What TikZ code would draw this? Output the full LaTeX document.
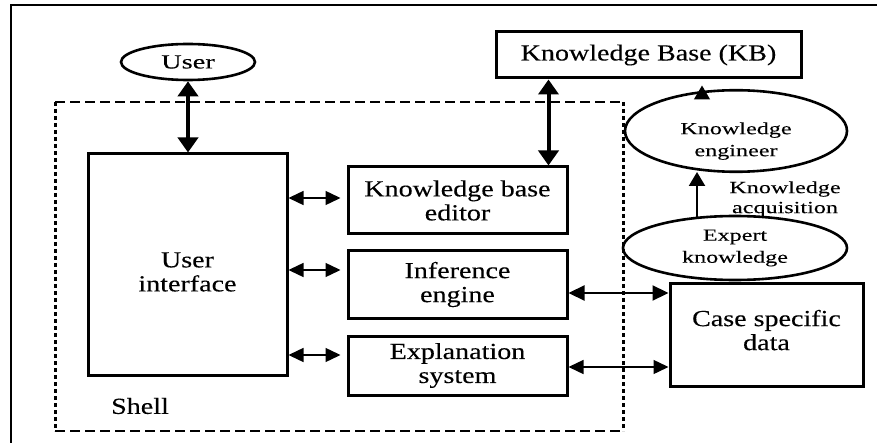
\documentclass[tikz,border=0pt]{standalone}
\usepackage{fontspec}
\setmainfont{Liberation Serif}[FakeStretch=1.22,FakeBold=0.2]
\newfontfamily\widesmall{Liberation Serif}[FakeStretch=1.42,FakeBold=0.15]
\usetikzlibrary{arrows.meta,shapes.geometric,calc}

\tikzset{
  box/.style={draw, line width=3pt, rectangle, align=center, inner sep=0pt,
    font=\fontsize{23}{24}\selectfont},
  oval/.style={draw, line width=2.6pt, ellipse, align=center, inner sep=0pt,
    font=\widesmall\fontsize{17}{22}\selectfont},
  bigtwo/.style={line width=4pt, {Triangle[length=15pt,width=20pt]}-{Triangle[length=15pt,width=20pt]}},
  thintwo/.style={line width=1.4pt, {Triangle[length=15pt,width=14pt]}-{Triangle[length=15pt,width=14pt]}},
  midtwo/.style={line width=2.2pt, {Triangle[length=16pt,width=15pt]}-{Triangle[length=16pt,width=15pt]}},
  upone/.style={-{Triangle[length=14pt,width=16pt]}},
  shellh/.style={line width=2.8pt, dash pattern=on 10pt off 5pt},
  shellv/.style={line width=3pt, dash pattern=on 4pt off 3pt},
}

\begin{document}
\begin{tikzpicture}[x=1pt,y=-1pt]
\useasboundingbox (0,0) rectangle (885,443);

% outer frame (left and top edges)
\draw[line width=2pt] (11,443) -- (11,5) -- (877,5);

% the shell
\coordinate (shTL) at (55,102);
\coordinate (shBR) at (623,431);
\draw[shellh] (shTL) -- (shTL -| shBR);
\draw[shellh] (shBR -| shTL) -- (shBR);
\draw[shellv] (shTL) -- (shBR -| shTL);
\draw[shellv] (shTL -| shBR) -- (shBR);
\node[font=\fontsize{23}{24}\selectfont] (shell) at (140,406) {Shell};

% components
\node[box, minimum width=199pt, minimum height=221pt] (ui) at (187.5,264.5) {\\[6pt]User\\interface};
\node[box, minimum width=219pt, minimum height=67pt] (kbed) at (457.5,200.5) {Knowledge base\\editor};
\node[box, minimum width=219pt, minimum height=67pt] (inf) at (457.5,284.5) {Inference\\engine};
\node[box, minimum width=219pt, minimum height=59pt] (expl) at (457.5,365.5) {Explanation\\system};
\node[box, minimum width=305pt, minimum height=46pt] (kb) at (648.5,55) {Knowledge Base (KB)};
\node[box, minimum width=193pt, minimum height=102pt] (case) at (766.5,335) {Case specific\\data\\[-14pt]};

\node[oval, minimum width=134pt, minimum height=36pt, font=\widesmall\fontsize{20}{22}\selectfont] (user) at (188,62) {User};
\node[oval, minimum width=222pt, minimum height=69pt] (eng) at (736,131) {\\[10pt]Knowledge\\engineer};
\node[oval, minimum width=224pt, minimum height=64pt] (exp) at (735,248) {Expert\\knowledge};

\node[align=center, font=\widesmall\fontsize{17}{20}\selectfont] (acq) at (785,199) {Knowledge\\acquisition};

% heavy links
\draw[bigtwo] (user.south) -- (user.south |- ui.north);
\coordinate (kbx) at ($(kbed.north east)+(-20,0)$);
\draw[bigtwo] (kbx |- kb.south) -- (kbx);

% knowledge flow
\coordinate (engup) at (702,98);
\draw[upone, line width=1.3pt, shorten >=6pt] (engup) -- (engup |- kb.south);
\coordinate (expup) at (697,218);
\coordinate (engdn) at (697,163);
\draw[upone, line width=2.2pt, shorten >=9pt] (expup) -- (engdn);

% user interface to shell parts
\coordinate (edL) at ([yshift=2.5pt]kbed.west);
\coordinate (infL) at ([yshift=14.5pt]inf.west);
\coordinate (exL) at ([yshift=10.5pt]expl.west);
\draw[thintwo, shorten >=6pt] (edL -| ui.east) -- (edL);
\draw[thintwo, shorten >=6pt] (infL -| ui.east) -- (infL);
\draw[thintwo, shorten >=6pt] (exL -| ui.east) -- (exL);

% case specific data links
\coordinate (infR) at ([yshift=-8.5pt]inf.east);
\coordinate (exR) at ([yshift=-1.5pt]expl.east);
\draw[midtwo] (infR) -- (infR -| case.west);
\draw[thintwo] (exR) -- (exR -| case.west);
\end{tikzpicture}
\end{document}
